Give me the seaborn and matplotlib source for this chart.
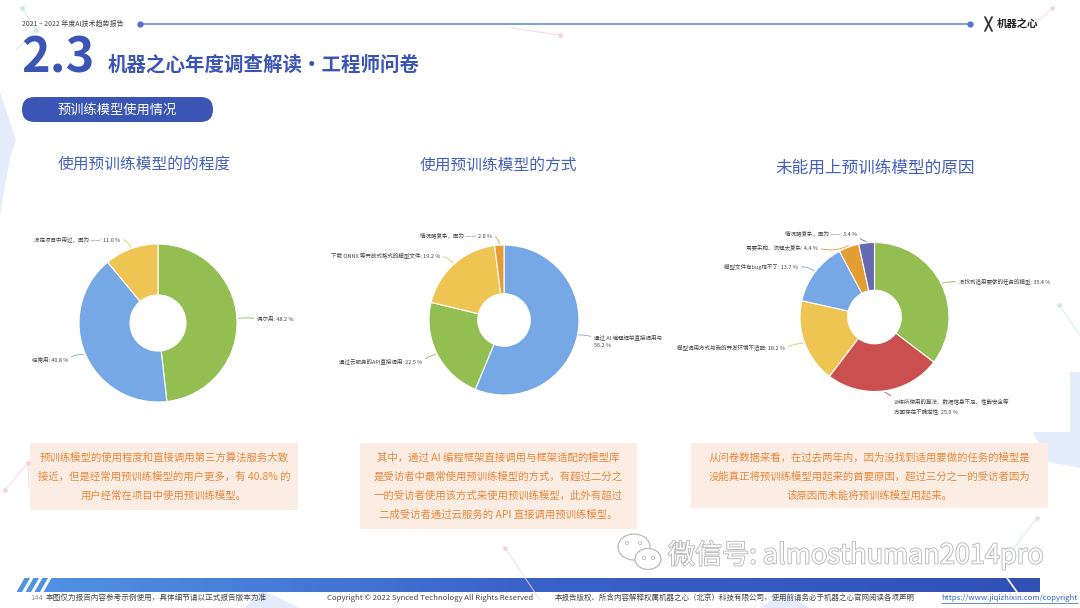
import numpy as np
import matplotlib
matplotlib.use("Agg")
import matplotlib.pyplot as plt
import matplotlib.patheffects as pe
from matplotlib.colors import LinearSegmentedColormap
from matplotlib.patches import FancyBboxPatch, Rectangle, Polygon, Ellipse, Circle
import seaborn as sns

sns.set_theme(style="white")
plt.rcParams["font.family"] = ["Noto Sans CJK SC", "DejaVu Sans"]

W, H = 1080, 608

# ── Data ──────────────────────────────────────────────────────
usage_labels = ["偶尔用", "经常用", "没在项目中用过，因为 ——"]
usage_values = [48.2, 40.8, 11.0]

method_labels = ["通过 AI 编程框架直接调用与\n", "通过云服务的API直接调用",
                 "下载 ONNX 等开放式格式的模型文件", "情况略复杂，因为 ——"]
method_values = [56.2, 22.5, 19.2, 2.0]

reason_labels = ["没找到适用要做的任务的模型",
                 "训练所使用的算法、数据信息不足、性能安全等\n方面存在不确定性",
                 "模型调用方式与我的开发环境不适配", "模型文件有bug跑不了",
                 "需要采购、流程太复杂", "情况略复杂，因为 ——"]
reason_values = [35.4, 25.0, 18.2, 13.7, 4.4, 3.4]

chart_titles = ["使用预训练模型的的程度", "使用预训练模型的方式", "未能用上预训练模型的原因"]

notes = [
    ["预训练模型的使用程度和直接调用第三方算法服务大致",
     "接近，但是经常用预训练模型的用户更多，有 40.8% 的",
     "用户经常在项目中使用预训练模型。"],
    ["其中，通过 AI 编程框架直接调用与框架适配的模型库",
     "是受访者中最常使用预训练模型的方式，有超过二分之",
     "一的受访者使用该方式来使用预训练模型，此外有超过",
     "二成受访者通过云服务的 API 直接调用预训练模型。"],
    ["从问卷数据来看，在过去两年内，因为没找到适用要做的任务的模型是",
     "没能真正将预训练模型用起来的首要原因，超过三分之一的受访者因为",
     "该原因而未能将预训练模型用起来。"],
]

# ── Style ─────────────────────────────────────────────────────
GREEN, BLUE, YELLOW = "#93BE52", "#76A8E6", "#EEC453"
ORANGE, RED, PURPLE = "#E39D34", "#C9504F", "#6769B0"
NAVY = "#3A55B4"
NOTE_BG, NOTE_FG = "#FBEDE3", "#E8873A"

fig = plt.figure(figsize=(W / 100, H / 100), dpi=100)
fig.patch.set_facecolor("white")
bg = fig.add_axes([0, 0, 1, 1])
bg.set_xlim(0, W)
bg.set_ylim(H, 0)
bg.axis("off")

# faint background decoration
deco = "#E4ECFC"
bg.add_patch(Polygon([(0, 92), (16, 140), (10, 158), (0, 215)], color=deco, lw=0))
bg.add_patch(Polygon([(1070, 372), (1080, 372), (1080, 468), (1048, 462),
                      (1033, 432), (1070, 432)], color=deco, lw=0))
bg.add_patch(Polygon([(245, 608), (262, 590), (300, 608)], color=deco, lw=0))
bg.add_patch(Polygon([(760, 608), (785, 592), (810, 608)], color=deco, lw=0))
for (x0, y0, x1, y1, c) in [(22, 8, 36, 30, "#CDEBDD"), (36, 30, 16, 50, "#CDEBDD"),
                            (560, 35, 510, 28, "#F8D3D8"), (1052, 8, 1030, 30, "#F8D3D8"),
                            (5, 490, 28, 463, "#F8D3D8"), (28, 463, 29, 487, "#F8D3D8"),
                            (505, 548, 540, 600, "#F8D3D8"), (1037, 518, 1005, 560, "#CDEBDD"),
                            (1059, 305, 1080, 335, "#CDEBDD")]:
    bg.plot([x0, x1], [y0, y1], color=c, lw=0.6)
    bg.plot([x0], [y0], "o", color=c, ms=2.5)

# ── Header ────────────────────────────────────────────────────
bg.text(22, 24, "2021 – 2022 年度AI技术趋势报告", fontsize=5, color="#444444",
        va="center", ha="left")
bg.plot([140, 970], [24, 24], color="#5B82D6", lw=1.1)
bg.plot([140, 970], [24, 24], "o", color="#4F74C9", ms=3.5)
bg.plot([985, 992], [17, 31], color="#333333", lw=1.3)
bg.plot([992, 985], [17, 31], color="#333333", lw=1.3)
bg.text(997, 24, "机器之心", fontsize=7.5, fontweight="bold", color="#222222",
        va="center", ha="left")

bg.text(21, 58, "2.3", fontsize=35, fontweight="bold", color=NAVY, va="center", ha="left")
bg.text(108, 65, "机器之心年度调查解读·工程师问卷", fontsize=14, fontweight="bold",
        color=NAVY, va="center", ha="left")
bg.add_patch(FancyBboxPatch((22, 97), 191, 25, boxstyle="round,pad=0,rounding_size=12.5",
                            facecolor=NAVY, edgecolor="none"))
bg.text(117.5, 110, "预训练模型使用情况", fontsize=9.5, color="white", va="center", ha="center")

# ── Chart titles ─────────────────────────────────────────────
for (x, y, fs), t in zip([(144.5, 165, 11.3), (498.5, 165, 11.3), (875, 168, 12)], chart_titles):
    bg.text(x, y, t, fontsize=fs, color="#4460BE", va="center", ha="center")


# ── Donuts ────────────────────────────────────────────────────
def draw_donut(cx, cy, r, hole, values, labels, colors, label_pos):
    ax = fig.add_axes([(cx - r) / W, (H - cy - r) / H, 2 * r / W, 2 * r / H])
    wedges, _ = ax.pie(values, colors=colors, startangle=90, counterclock=False, radius=1,
                       wedgeprops=dict(width=1 - hole, edgecolor="white", linewidth=0.8))
    ax.set_xlim(-1, 1)
    ax.set_ylim(-1, 1)
    ax.axis("off")
    for w, name, v, col, (tx, ty, side, rad) in zip(wedges, labels, values, colors, label_pos):
        w.set_clip_on(False)
        mid = np.deg2rad((w.theta1 + w.theta2) / 2)
        sep = "" if name.endswith("\n") else ": "
        text = f"{name}{sep}{v:.1f} %"
        ha = "left" if side == "r" else "right"
        relpos = (0, 0.75) if side == "r" and "\n" in text else ((0, 0.5) if side == "r" else (1, 0.5))
        va = "top" if "\n" in text else "center"
        ax.annotate(text, xy=(1.02 * np.cos(mid), 1.02 * np.sin(mid)), xycoords="data",
                    xytext=(tx, ty), textcoords=bg.transData, ha=ha, va=va,
                    fontsize=4, color="#444444", annotation_clip=False, linespacing=1.8,
                    arrowprops=dict(arrowstyle="-", color=col, lw=0.6, shrinkA=0, shrinkB=0,
                                    relpos=relpos, connectionstyle=f"arc3,rad={rad}"))


draw_donut(158, 323, 79, 0.355, usage_values, usage_labels, [GREEN, BLUE, YELLOW],
           [(257, 319, "r", 0.1), (68, 359, "l", -0.2), (120, 239, "l", -0.3)])
draw_donut(504, 320, 75, 0.35, method_values, method_labels, [BLUE, GREEN, YELLOW, ORANGE],
           [(594, 334, "r", 0.1), (422, 362, "l", -0.2), (440, 256, "l", -0.2),
            (492, 235, "l", -0.3)])
draw_donut(874.5, 317, 74.5, 0.36, reason_values, reason_labels,
           [GREEN, RED, YELLOW, BLUE, ORANGE, PURPLE],
           [(959, 282, "r", 0.1), (894, 399, "r", 0.3), (785, 348, "l", -0.1),
            (798, 267, "l", -0.2), (818, 248, "l", 0.2), (857, 233, "l", 0.3)])

# ── Notes ─────────────────────────────────────────────────────
boxes = [(30, 443, 268, 67), (360, 443, 277, 86), (691, 443, 357, 65)]
for (x, y, w, h), lines in zip(boxes, notes):
    bg.add_patch(Rectangle((x, y), w, h, facecolor=NOTE_BG, edgecolor="none"))
    for i, line in enumerate(lines):
        bg.text(x + w / 2, y + 14.5 + i * 19, line, fontsize=7.5, color=NOTE_FG,
                ha="center", va="center")

# ── Watermark ─────────────────────────────────────────────────
for (ex, ey, ew, eh) in [(634, 547, 32, 26), (648, 559, 26, 21)]:
    bg.add_patch(Ellipse((ex, ey), ew, eh, facecolor="white", edgecolor="#BBBBBB", lw=0.9))
for (dx, dy) in [(627, 543), (640, 543), (644, 558), (653, 558)]:
    bg.add_patch(Circle((dx, dy), 1.6, facecolor="white", edgecolor="#BBBBBB", lw=0.6))
bg.text(668, 555, "微信号: almosthuman2014pro", fontsize=19.5, color="white",
        ha="left", va="center",
        path_effects=[pe.withStroke(linewidth=1.3, foreground="#B8B8B8")])

# ── Footer ────────────────────────────────────────────────────
cmap = LinearSegmentedColormap.from_list("bar", ["#5294E6", "#3A62C8", "#3050B6"])
bg.imshow(np.linspace(0, 1, 256).reshape(1, -1), cmap=cmap, aspect="auto",
          extent=[15, 1040, 592, 578], zorder=1)
for k in range(4):
    x0 = 13 + k * 9
    bg.add_patch(Polygon([(x0, 592), (x0 + 3.5, 592), (x0 + 11.5, 578), (x0 + 8, 578)],
                         color="white", lw=0, zorder=2))
bg.add_patch(Polygon([(5, 592), (14, 592), (22, 578), (5, 578)], color="white", lw=0, zorder=2))
bg.plot([1007, 1017], [578, 592], color="white", lw=1.2, zorder=2)
bg.set_xlim(0, W)
bg.set_ylim(H, 0)

bg.text(30, 598, "144", fontsize=5.5, color="#999999", va="center", ha="left")
bg.text(46, 598, "本图仅为报告内容参考示例使用，具体细节请以正式报告版本为准", fontsize=5.5,
        color="#444444", va="center", ha="left")
bg.text(327, 598, "Copyright © 2022 Synced Technology All Rights Reserved", fontsize=5.6,
        color="#444444", va="center", ha="left")
bg.text(555, 598, "本报告版权、所含内容解释权属机器之心（北京）科技有限公司，使用前请务必于机器之心官网阅读各项声明",
        fontsize=5.4, color="#444444", va="center", ha="left")
url = bg.text(1078, 598, "https://www.jiqizhixin.com/copyright", fontsize=5.6, color="#2F5FD0",
              va="center", ha="right")
bg.plot([941, 1078], [603, 603], color="#2F5FD0", lw=0.5)

fig.savefig("out.png", dpi=100, facecolor="white")
